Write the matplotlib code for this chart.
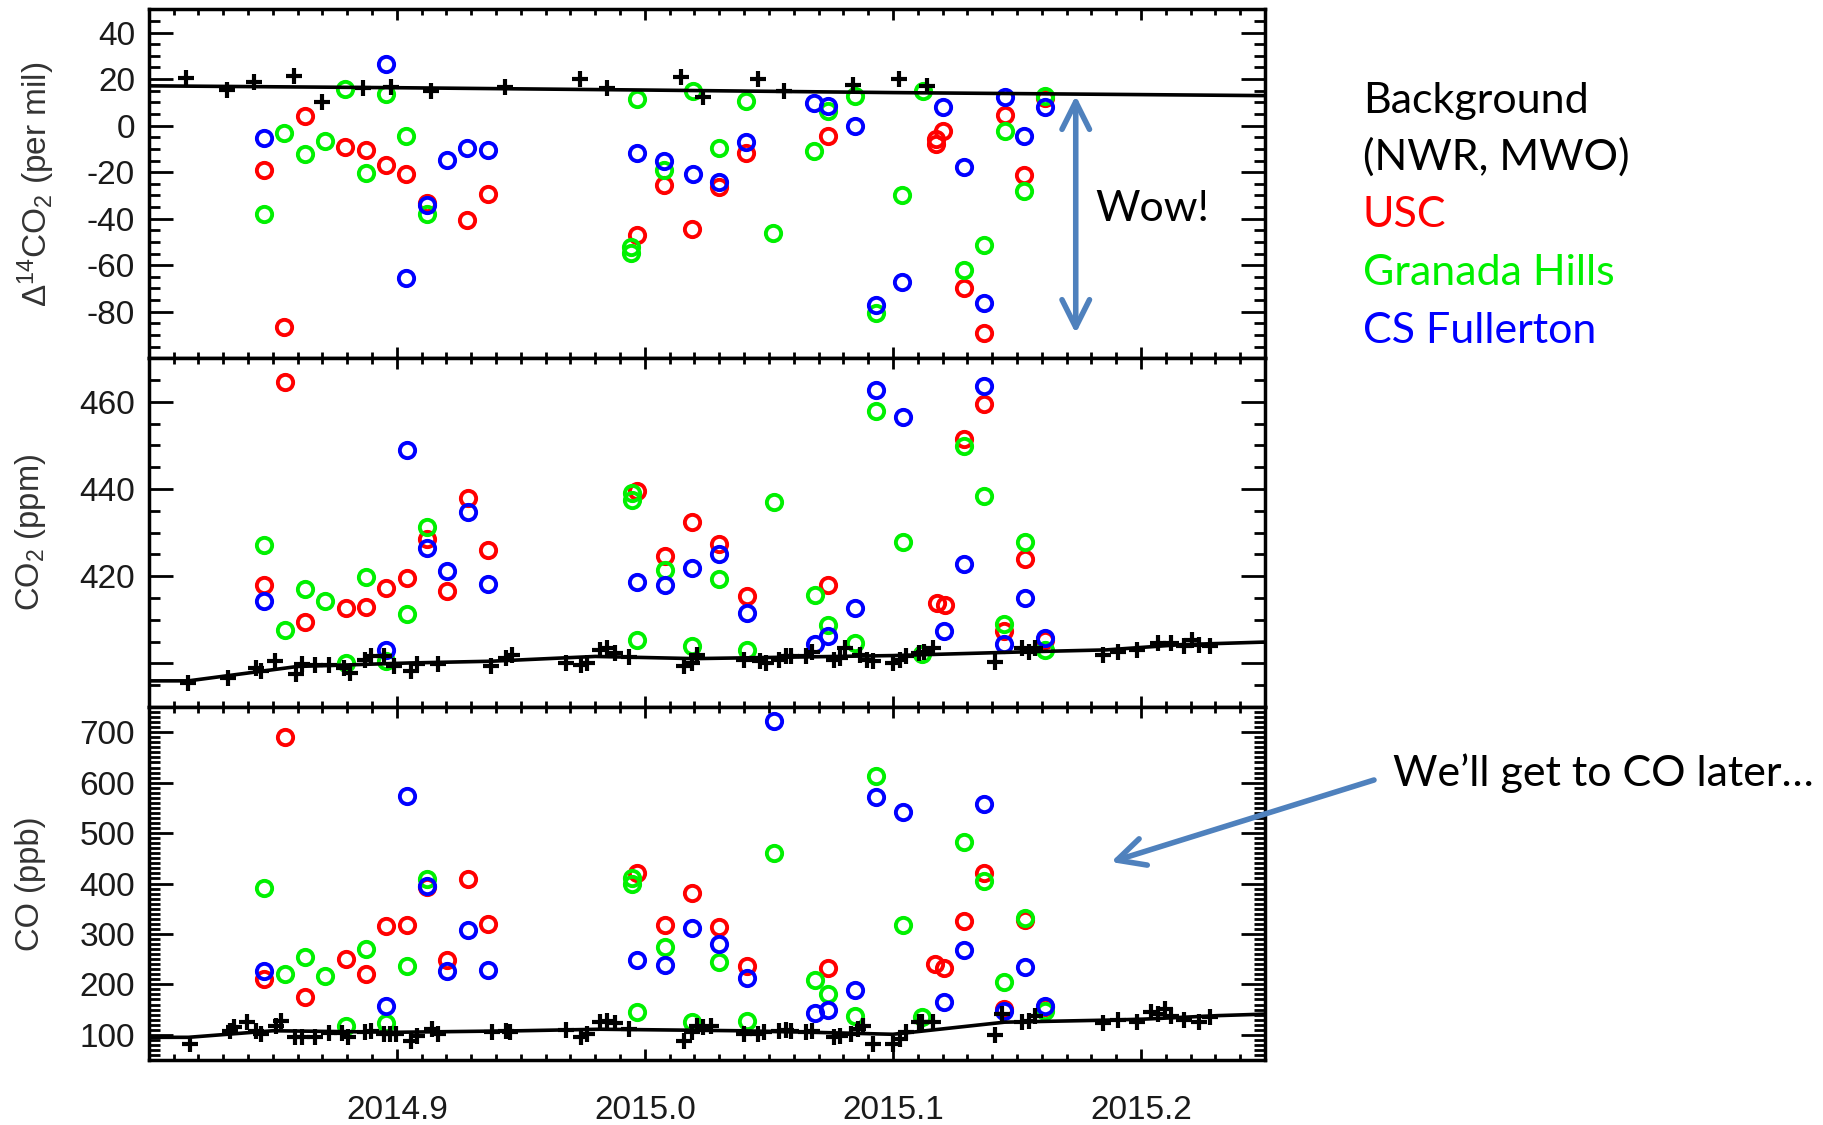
import numpy as np
import matplotlib
matplotlib.use('Agg')
import matplotlib.pyplot as plt
from matplotlib.ticker import MultipleLocator

plt.rcParams['font.family'] = 'Liberation Sans'
plt.rcParams['mathtext.default'] = 'regular'

# ---- Delta 14CO2 (per mil) ----
bg_d14c_t = [2014.8151, 2014.8317, 2014.8424, 2014.8586, 2014.8700, 2014.8862, 2014.8975,
             2014.9137, 2014.9437, 2014.9739, 2014.9847, 2015.0147, 2015.0233, 2015.0455,
             2015.0562, 2015.0837, 2015.1025, 2015.1137]
bg_d14c = [20.4, 15.3, 18.9, 21.3, 10.3, 16.1, 16.4, 15.0, 16.7, 19.9, 16.1, 21.0, 12.4, 19.9,
           15.0, 17.6, 20.0, 17.1]
fit_d14c_t = [2014.80, 2014.90, 2015.00, 2015.10, 2015.25]
fit_d14c = [17.1, 16.3, 15.3, 14.2, 12.9]

usc_d14c_t = [2014.8466, 2014.8547, 2014.8628, 2014.8793, 2014.8876, 2014.8957, 2014.9038,
              2014.9122, 2014.9284, 2014.9369, 2014.9968, 2015.0079, 2015.0190, 2015.0300,
              2015.0408, 2015.0738, 2015.1175, 2015.1175, 2015.1202, 2015.1287, 2015.1367,
              2015.1450, 2015.1530, 2015.1613]
usc_d14c = [-19.0, -86.4, 4.3, -9.0, -10.4, -16.9, -21.0, -33.3, -40.4, -29.3, -47.1, -25.7,
            -44.3, -26.4, -11.9, -4.3, -5.7, -7.9, -2.1, -70.0, -89.3, 4.6, -21.4, 11.9]
gh_d14c_t = [2014.8466, 2014.8547, 2014.8628, 2014.8712, 2014.8793, 2014.8876, 2014.8957,
             2014.9038, 2014.9122, 2014.9946, 2014.9946, 2014.9968, 2015.0079, 2015.0192,
             2015.0300, 2015.0408, 2015.0518, 2015.0683, 2015.0738, 2015.0847, 2015.0930,
             2015.1037, 2015.1120, 2015.1287, 2015.1367, 2015.1450, 2015.1530, 2015.1613]
gh_d14c = [-37.9, -3.3, -12.1, -6.4, 15.7, -20.4, 13.6, -4.3, -37.9, -52.1, -54.7, 11.4, -19.0,
           15.0, -9.7, 10.4, -46.1, -10.7, 6.1, 12.9, -80.7, -29.6, 14.7, -62.1, -51.1, -2.1,
           -28.1, 12.9]
csf_d14c_t = [2014.8466, 2014.8957, 2014.9038, 2014.9122, 2014.9203, 2014.9284, 2014.9369,
              2014.9968, 2015.0079, 2015.0192, 2015.0300, 2015.0408, 2015.0683, 2015.0738,
              2015.0847, 2015.0930, 2015.1037, 2015.1202, 2015.1287, 2015.1367, 2015.1450,
              2015.1530, 2015.1613]
csf_d14c = [-5.4, 26.7, -65.7, -33.9, -14.7, -9.7, -10.4, -11.9, -15.3, -21.0, -24.3, -7.1, 9.6,
            8.6, 0.0, -77.1, -67.4, 8.1, -17.6, -76.1, 12.1, -4.3, 8.1]

# ---- CO2 (ppm) ----
bg_co2_t = [2014.8157, 2014.8318, 2014.8431, 2014.8454, 2014.8508, 2014.8592, 2014.8618,
            2014.8672, 2014.8726, 2014.8788, 2014.8811, 2014.8872, 2014.8895, 2014.8949,
            2014.8988, 2014.9057, 2014.9080, 2014.9165, 2014.9380, 2014.9442, 2014.9465,
            2014.9680, 2014.9742, 2014.9765, 2014.9818, 2014.9849, 2014.9880, 2014.9934,
            2015.0157, 2015.0188, 2015.0211, 2015.0398, 2015.0465, 2015.0487, 2015.0539,
            2015.0569, 2015.0591, 2015.0651, 2015.0673, 2015.0762, 2015.0785, 2015.0807,
            2015.0866, 2015.0896, 2015.0918, 2015.1000, 2015.1030, 2015.1052, 2015.1104,
            2015.1126, 2015.1163, 2015.1412, 2015.1520, 2015.1550, 2015.1572, 2015.1847,
            2015.1906, 2015.1985, 2015.2067, 2015.2122, 2015.2174, 2015.2204, 2015.2233,
            2015.2278]
bg_co2 = [395.5, 396.7, 398.9, 398.2, 400.5, 397.6, 399.8, 399.7, 399.7, 398.9, 397.8, 400.8,
          401.6, 401.6, 399.3, 398.2, 399.8, 399.8, 399.3, 401.2, 402.0, 400.1, 399.7, 400.1,
          403.1, 403.5, 402.4, 401.4, 399.3, 400.1, 402.0, 400.8, 400.5, 400.1, 400.8, 401.6,
          401.6, 401.6, 402.7, 400.8, 401.2, 403.5, 402.0, 400.8, 400.5, 400.1, 400.8, 401.6,
          402.4, 402.7, 403.6, 400.3, 403.5, 402.7, 403.5, 402.0, 402.7, 403.1, 404.6, 404.6,
          403.9, 405.4, 404.3, 403.9]
fit_co2_t = [2014.800, 2014.816, 2014.860, 2014.905, 2014.938, 2014.980, 2015.020, 2015.100,
             2015.156, 2015.186, 2015.216, 2015.250]
fit_co2 = [396.0, 396.0, 399.3, 400.1, 400.5, 401.6, 401.1, 401.8, 402.7, 403.1, 404.3, 404.9]

usc_co2_t = [2014.8465, 2014.8548, 2014.8629, 2014.8794, 2014.8875, 2014.8957, 2014.9040,
             2014.9122, 2014.9203, 2014.9285, 2014.9368, 2014.9969, 2015.0080, 2015.0188,
             2015.0300, 2015.0410, 2015.0740, 2015.1178, 2015.1208, 2015.1285, 2015.1367,
             2015.1449, 2015.1532, 2015.1614]
usc_co2 = [417.9, 464.5, 409.4, 412.6, 413.0, 417.4, 419.7, 428.6, 416.7, 437.9, 426.1, 439.6,
           424.6, 432.4, 427.5, 415.5, 417.9, 413.8, 413.4, 451.6, 459.5, 407.5, 424.0, 405.4]
gh_co2_t = [2014.8465, 2014.8548, 2014.8629, 2014.8712, 2014.8794, 2014.8875, 2014.8957,
            2014.9040, 2014.9122, 2014.9948, 2014.9948, 2014.9969, 2015.0080, 2015.0188,
            2015.0300, 2015.0410, 2015.0522, 2015.0685, 2015.0740, 2015.0848, 2015.0930,
            2015.1040, 2015.1119, 2015.1285, 2015.1367, 2015.1449, 2015.1532, 2015.1614]
gh_co2 = [427.1, 407.6, 417.0, 414.3, 400.1, 419.8, 400.6, 411.4, 431.2, 439.1, 437.5, 405.4,
          421.4, 403.9, 419.3, 403.1, 437.0, 415.8, 408.7, 404.6, 457.9, 427.8, 402.1, 449.9,
          438.3, 409.0, 427.8, 403.1]
csf_co2_t = [2014.8465, 2014.8957, 2014.9040, 2014.9122, 2014.9203, 2014.9285, 2014.9368,
             2014.9969, 2015.0080, 2015.0188, 2015.0300, 2015.0410, 2015.0685, 2015.0740,
             2015.0848, 2015.0930, 2015.1040, 2015.1204, 2015.1285, 2015.1367, 2015.1449,
             2015.1532, 2015.1614]
csf_co2 = [414.4, 403.1, 449.0, 426.5, 421.1, 434.7, 418.3, 418.7, 417.9, 422.0, 425.0, 411.5,
           404.5, 406.3, 412.6, 462.7, 456.5, 407.5, 422.7, 463.6, 404.4, 414.9, 405.9]

# ---- CO (ppb) ----
bg_co_t = [2014.8165, 2014.8326, 2014.8342, 2014.8395, 2014.8434, 2014.8454, 2014.8511,
           2014.8534, 2014.8588, 2014.8618, 2014.8672, 2014.8726, 2014.8780, 2014.8803,
           2014.8872, 2014.8895, 2014.8949, 2014.8972, 2014.8995, 2014.9057, 2014.9080,
           2014.9142, 2014.9165, 2014.9385, 2014.9442, 2014.9457, 2014.9680, 2014.9742,
           2014.9765, 2014.9818, 2014.9849, 2014.9880, 2014.9934, 2015.0157, 2015.0188,
           2015.0211, 2015.0234, 2015.0265, 2015.0398, 2015.0458, 2015.0480, 2015.0539,
           2015.0569, 2015.0591, 2015.0651, 2015.0673, 2015.0762, 2015.0785, 2015.0829,
           2015.0859, 2015.0881, 2015.0918, 2015.1000, 2015.1030, 2015.1052, 2015.1104,
           2015.1119, 2015.1163, 2015.1412, 2015.1438, 2015.1520, 2015.1550, 2015.1572,
           2015.1847, 2015.1906, 2015.1985, 2015.2040, 2015.2070, 2015.2097, 2015.2122,
           2015.2174, 2015.2233, 2015.2278]
bg_co = [81, 108, 115, 125, 108, 101, 118, 128, 95, 95, 95, 103, 103, 95, 105, 108, 101, 101,
         101, 88, 98, 111, 101, 105, 108, 105, 109, 96, 101, 125, 128, 123, 111, 88, 105, 118,
         116, 118, 101, 101, 105, 108, 109, 108, 105, 108, 95, 98, 101, 111, 118, 81, 81, 91,
         105, 125, 125, 125, 99, 141, 125, 128, 138, 123, 129, 125, 145, 141, 151, 138, 129,
         125, 136]
fit_co_t = [2014.800, 2014.816, 2014.850, 2014.900, 2014.950, 2014.982, 2015.038, 2015.067,
            2015.100, 2015.145, 2015.186, 2015.201, 2015.231, 2015.250]
fit_co = [95, 95, 108, 105, 108, 111, 108, 105, 101, 125, 129, 131, 138, 141]

usc_co_t = [2014.8465, 2014.8548, 2014.8629, 2014.8794, 2014.8875, 2014.8957, 2014.9040,
            2014.9122, 2014.9203, 2014.9285, 2014.9368, 2014.9969, 2015.0080, 2015.0188,
            2015.0300, 2015.0410, 2015.0740, 2015.1171, 2015.1204, 2015.1285, 2015.1367,
            2015.1449, 2015.1532, 2015.1614]
usc_co = [210, 691, 175, 251, 220, 315, 318, 393, 248, 408, 319, 421, 318, 381, 313, 237, 233,
          241, 233, 326, 420, 151, 328, 156]
gh_co_t = [2014.8465, 2014.8548, 2014.8629, 2014.8712, 2014.8794, 2014.8875, 2014.8957,
           2014.9040, 2014.9122, 2014.9948, 2014.9948, 2014.9969, 2015.0080, 2015.0188,
           2015.0300, 2015.0410, 2015.0522, 2015.0685, 2015.0740, 2015.0848, 2015.0930,
           2015.1040, 2015.1119, 2015.1285, 2015.1367, 2015.1449, 2015.1532, 2015.1614]
gh_co = [391, 220, 255, 216, 118, 271, 123, 236, 408, 411, 400, 145, 275, 125, 245, 127, 461,
         208, 181, 138, 613, 318, 135, 483, 405, 205, 331, 147]
csf_co_t = [2014.8465, 2014.8957, 2014.9040, 2014.9122, 2014.9203, 2014.9285, 2014.9368,
            2014.9969, 2015.0080, 2015.0188, 2015.0300, 2015.0410, 2015.0522, 2015.0685,
            2015.0740, 2015.0848, 2015.0930, 2015.1040, 2015.1204, 2015.1285, 2015.1367,
            2015.1449, 2015.1532, 2015.1614]
csf_co = [227, 157, 573, 395, 227, 307, 229, 248, 238, 311, 281, 213, 723, 143, 149, 188, 571,
          541, 165, 268, 558, 148, 235, 157]

x_ticks = [2014.9, 2015.0, 2015.1, 2015.2]
site_names = ['Background\n(NWR, MWO)', 'USC', 'Granada Hills', 'CS Fullerton']
site_colors = ['black', '#FF0000', '#00F000', '#0000FF']

panels = [
    dict(bg=(bg_d14c_t, bg_d14c), fit=(fit_d14c_t, fit_d14c),
         sites=[(usc_d14c_t, usc_d14c), (gh_d14c_t, gh_d14c), (csf_d14c_t, csf_d14c)],
         ylim=(-100, 50), yticks=[-80, -60, -40, -20, 0, 20, 40],
         ylabels=['-80', '-60', '-40', '-20', '0', '20', '40'], minor=5,
         label=r'$\Delta^{14}$CO$_2$ (per mil)', lab_x=-0.101, lab_fs=24),
    dict(bg=(bg_co2_t, bg_co2), fit=(fit_co2_t, fit_co2),
         sites=[(usc_co2_t, usc_co2), (gh_co2_t, gh_co2), (csf_co2_t, csf_co2)],
         ylim=(390, 470), yticks=[400, 420, 440, 460],
         ylabels=['', '420', '440', '460'], minor=5,
         label=r'CO$_2$ (ppm)', lab_x=-0.106, lab_fs=23.5),
    dict(bg=(bg_co_t, bg_co), fit=(fit_co_t, fit_co),
         sites=[(usc_co_t, usc_co), (gh_co_t, gh_co), (csf_co_t, csf_co)],
         ylim=(50, 750), yticks=[100, 200, 300, 400, 500, 600, 700],
         ylabels=['100', '200', '300', '400', '500', '600', '700'], minor=10,
         label='CO (ppb)', lab_x=-0.106, lab_fs=23.5),
]

fig = plt.figure(figsize=(18.23, 11.25), dpi=100)
W, H = 1823.0, 1125.0
left, right = 148.8, 1265.0
edges = [9.3, 358.3, 707.0, 1060.0]

axes = []
for i, p in enumerate(panels):
    ax = fig.add_axes([left / W, 1 - edges[i + 1] / H, (right - left) / W,
                       (edges[i + 1] - edges[i]) / H])
    axes.append(ax)

    for (t, v), c in zip(p['sites'], site_colors[1:]):
        ax.plot(t, v, ls='none', marker='o', ms=11, mfc='none', mec=c, mew=2.8, zorder=2)
    ax.plot(p['bg'][0], p['bg'][1], ls='none', marker='+', ms=11.5, mew=3.0, color='black', zorder=3)
    ax.plot(p['fit'][0], p['fit'][1], color='black', lw=2.6, zorder=3)

    ax.set_xlim(2014.8, 2015.25)
    ax.set_ylim(*p['ylim'])
    ax.set_xticks(x_ticks)
    ax.xaxis.set_minor_locator(MultipleLocator(0.01))
    ax.set_yticks(p['yticks'])
    ax.set_yticklabels(p['ylabels'])
    ax.yaxis.set_minor_locator(MultipleLocator(p['minor']))

    ax.tick_params(which='both', direction='in', top=True, right=True, width=2,
                   labelsize=24, labelcolor='#1a1a1a')
    ax.tick_params(axis='x', which='major', length=8)
    ax.tick_params(axis='x', which='minor', length=4)
    ax.tick_params(axis='y', which='major', length=17, pad=10)
    ax.tick_params(axis='y', which='minor', length=8)
    for s in ax.spines.values():
        s.set_linewidth(2.5)

    ax.set_ylabel(p['label'], fontsize=p['lab_fs'], color='#333333', va='center')
    ax.yaxis.set_label_coords(p['lab_x'], 0.5)

    if i < 2:
        ax.tick_params(axis='x', labelbottom=False)
    else:
        ax.set_xticklabels(['%.1f' % x for x in x_ticks])
        ax.tick_params(axis='x', pad=25)

# legend-like coloured text on the right
leg_base = [113, 227, 285, 343]
fig.text(1363 / W, 1 - 113 / H, 'Background', fontsize=31, family='Lato', color='black',
         va='baseline')
fig.text(1363 / W, 1 - 170 / H, '(NWR, MWO)', fontsize=31, family='Lato', color='black',
         va='baseline')
for name, c, yb in zip(site_names[1:], site_colors[1:], leg_base[1:]):
    fig.text(1363 / W, 1 - yb / H, name, fontsize=31, family='Lato', color=c, va='baseline')

# "Wow!" double arrow in the top panel
arrow_col = '#4F81BD'
axes[0].annotate('', xy=(2015.1737, 12.9), xytext=(2015.1737, -89.3),
                 arrowprops=dict(arrowstyle='<->,head_length=0.9,head_width=0.45',
                                 color=arrow_col, lw=4, mutation_scale=22,
                                 shrinkA=0, shrinkB=0))
fig.text(1095 / W, 1 - 221 / H, 'Wow!', fontsize=31, family='Lato', color='black',
         va='baseline')

# CO comment with arrow
fig.text(1393 / W, 1 - 786 / H, 'We\u2019ll get to CO later\u2026', fontsize=31, family='Lato',
         color='black', va='baseline')
fig.add_artist(matplotlib.patches.FancyArrowPatch(
    (1374 / W, 1 - 780 / H), (1111 / W, 1 - 862 / H), transform=fig.transFigure,
    arrowstyle='->,head_length=0.9,head_width=0.45', color=arrow_col, lw=4,
    mutation_scale=22, shrinkA=0, shrinkB=0))

fig.savefig('out.png', dpi=100)
